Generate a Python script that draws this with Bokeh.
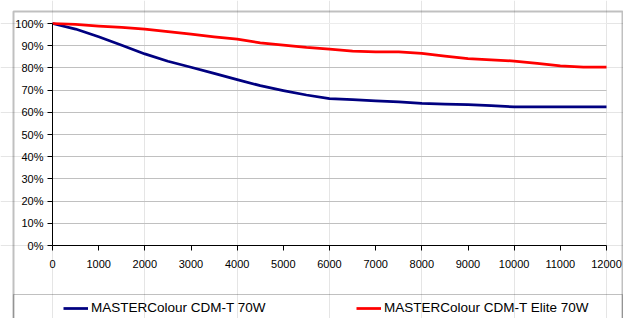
from bokeh.plotting import figure
from bokeh.models import (Range1d, FixedTicker, PrintfTickFormatter, BoxAnnotation, Legend,
                          LegendItem, LinearAxis, Grid)
from bokeh.embed import file_html
from bokeh.resources import INLINE

hours = [0, 500, 1000, 1500, 2000, 2500, 3000, 3500, 4000, 4500, 5000, 5500, 6000,
         6500, 7000, 7500, 8000, 8500, 9000, 9500, 10000, 10500, 11000, 11500, 12000]
cdm_t = [100, 97.5, 94, 90.2, 86.3, 83, 80.3, 77.5, 74.7, 72, 69.8, 67.8, 66.2,
         65.7, 65.2, 64.7, 64.0, 63.7, 63.5, 63.0, 62.4, 62.4, 62.4, 62.4, 62.4]
cdm_t_elite = [100, 99.6, 98.8, 98.2, 97.5, 96.3, 95.2, 94.0, 93.0, 91.3, 90.3, 89.2, 88.5,
               87.6, 87.2, 87.2, 86.5, 85.3, 84.2, 83.6, 83.1, 82.0, 80.9, 80.3, 80.3]
x_ticks = list(range(0, 12001, 1000))
y_ticks = list(range(0, 101, 10))
names = ["MASTERColour CDM-T 70W", "MASTERColour CDM-T Elite 70W"]

FONT = "Liberation Sans"
W, H = 623, 318
# plot area in canvas pixels
PL, PR, PT, PB = 52, 606, 23, 245
XMAX, YMAX = 12000, 100
sx = XMAX / (PR - PL)
sy = YMAX / (PB - PT)


def X(px):
    return (px - PL) * sx


def Y(py):
    return (PB - py) * sy


p = figure(width=W, height=H, output_backend="svg", toolbar_location=None,
           x_range=Range1d(X(0), X(W)), y_range=Range1d(Y(H), Y(0)),
           x_axis_location=None, y_axis_location=None,
           min_border=0, min_border_left=0, min_border_right=0,
           min_border_top=0, min_border_bottom=0)
p.outline_line_color = None
p.background_fill_color = "white"
p.border_fill_color = "white"

# gridlines
p.add_layout(Grid(dimension=1, ticker=FixedTicker(ticks=y_ticks[1:-1]), cross_bounds=(0, XMAX),
                  grid_line_color="#c0c0c0", grid_line_width=1))
p.add_layout(Grid(dimension=1, ticker=FixedTicker(ticks=y_ticks[-1:]), cross_bounds=(0, XMAX),
                  grid_line_color="#ececec", grid_line_width=1))

r1 = p.line(hours, cdm_t, line_color="#000080", line_width=2.75, line_join="round")
r2 = p.line(hours, cdm_t_elite, line_color="#ff0000", line_width=2.75, line_join="round")

xaxis = LinearAxis(fixed_location=0, bounds=(0, XMAX), ticker=FixedTicker(ticks=x_ticks))
yaxis = LinearAxis(fixed_location=0, bounds=(0, YMAX), ticker=FixedTicker(ticks=y_ticks),
                   formatter=PrintfTickFormatter(format="%d%%"))
for ax in (xaxis, yaxis):
    ax.axis_line_color = "black"
    ax.axis_line_width = 1
    ax.major_tick_line_color = "black"
    ax.minor_tick_line_color = None
    ax.major_tick_in = 0
    ax.major_tick_out = 5
    ax.major_label_text_font = FONT
    ax.major_label_text_font_size = "11px"
    ax.major_label_text_color = "black"
xaxis.major_label_standoff = 9
yaxis.major_label_standoff = 4
p.add_layout(xaxis, "below")
p.add_layout(yaxis, "left")

# outer chart border and legend separator
p.add_layout(BoxAnnotation(left=X(13), right=X(622), top=Y(11), bottom=Y(340),
                           fill_alpha=0, line_color="#2e2e2e", line_width=2))
p.add_layout(BoxAnnotation(left=X(13), right=X(622), top=Y(294), bottom=Y(340),
                           fill_alpha=0, line_color="#2e2e2e", line_width=1.2))

common = dict(orientation="horizontal", glyph_width=25, glyph_height=14, label_height=14,
              label_standoff=3, padding=0, margin=0, border_line_alpha=0,
              background_fill_alpha=0, label_text_font=FONT, label_text_font_size="13.5px",
              label_text_color="black")
p.add_layout(Legend(items=[LegendItem(label=names[0], renderers=[r1])],
                    location=(63, H - 315), **common))
p.add_layout(Legend(items=[LegendItem(label=names[1], renderers=[r2])],
                    location=(356, H - 315), **common))

open("out.html", "w").write(file_html(p, INLINE))
